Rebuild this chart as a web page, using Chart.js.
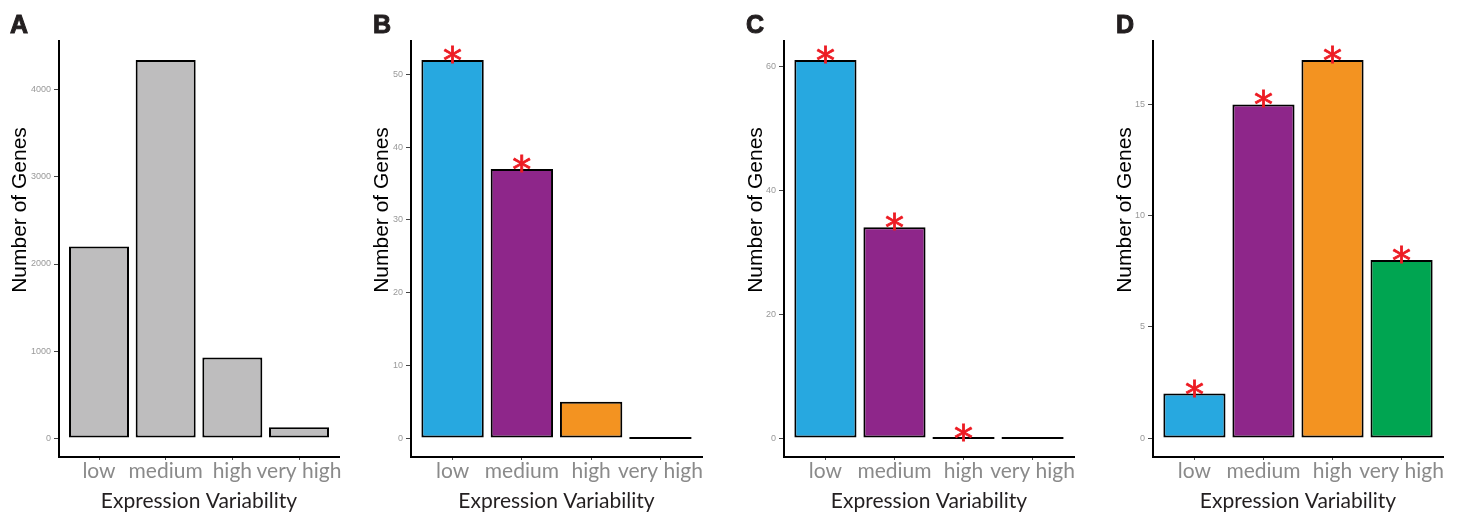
<!DOCTYPE html>
<html>
<head>
<meta charset="utf-8">
<script src="https://cdn.jsdelivr.net/npm/chart.js@4.4.1/dist/chart.umd.min.js"></script>
<style>
  body { margin: 0; background: #fff; width: 1460px; height: 514px; position: relative; overflow: hidden; }
  .panel { position: absolute; top: 0; }
  .letter { position: absolute; top: 12px; font: bold 25px 'Liberation Sans', Arial, sans-serif; line-height: 1; color: #231f20; -webkit-text-stroke: 1px #231f20; }
</style>
</head>
<body>
<div class="panel" style="left:0"><canvas id="chartA" width="345" height="514"></canvas></div>
<div class="panel" style="left:370px"><canvas id="chartB" width="340" height="514"></canvas></div>
<div class="panel" style="left:740px"><canvas id="chartC" width="340" height="514"></canvas></div>
<div class="panel" style="left:1100px"><canvas id="chartD" width="355" height="514"></canvas></div>
<div class="letter" style="left:10px">A</div>
<div class="letter" style="left:373px">B</div>
<div class="letter" style="left:746px">C</div>
<div class="letter" style="left:1116px">D</div>
<script>
const categories = ['low', 'medium', 'high', 'very high'];

const countsA = [2200, 4345, 925, 125];
const countsB = [52, 37, 5, 0];
const countsC = [61, 34, 0, 0];
const countsD = [2, 15, 17, 8];

const starsA = [false, false, false, false];
const starsB = [true, true, false, false];
const starsC = [true, true, true, false];
const starsD = [true, true, true, true];

const ticksA = [0, 1000, 2000, 3000, 4000];
const ticksB = [0, 10, 20, 30, 40, 50];
const ticksC = [0, 20, 40, 60];
const ticksD = [0, 5, 10, 15];

const grey = '#bebdbe';
const colorsA = [grey, grey, grey, grey];
const colorsVar = ['#27a8e0', '#8e268a', '#f39321', '#00a551'];

// stars above bars + rotated y title
const extras = {
  id: 'extras',
  afterDatasetsDraw(chart, args, opts) {
    const { ctx } = chart;
    const meta = chart.getDatasetMeta(0);
    const ys = chart.scales.y;
    const vals = chart.data.datasets[0].data;
    ctx.save();
    ctx.fillStyle = '#ed1c24';
    ctx.strokeStyle = '#ed1c24';
    ctx.lineWidth = 0.8;
    ctx.font = '38px "DejaVu Sans"';
    ctx.textAlign = 'center';
    ctx.textBaseline = 'alphabetic';
    const m = ctx.measureText('*');
    opts.stars.forEach((s, i) => {
      if (!s) return;
      const cy = ys.getPixelForValue(vals[i].y) - 6;
      const by = cy + (m.actualBoundingBoxAscent - m.actualBoundingBoxDescent) / 2;
      ctx.fillText('*', meta.data[i].x, by);
      ctx.strokeText('*', meta.data[i].x, by);
    });
    ctx.restore();

    ctx.save();
    ctx.translate(opts.titleX, 210);
    ctx.rotate(-Math.PI / 2);
    ctx.fillStyle = '#000';
    ctx.font = '21px "Liberation Sans"';
    ctx.textAlign = 'center';
    ctx.textBaseline = 'middle';
    ctx.fillText('Number of Genes', 0, 0);
    ctx.restore();
  }
};

function makePanel(id, counts, colors, stars, yTicks, cfg) {
  const top = Math.max(...counts);
  return new Chart(document.getElementById(id), {
    type: 'bar',
    data: {
      datasets: [{
        data: counts.map((v, i) => ({ x: i + 1, y: v })),
        backgroundColor: colors,
        borderColor: '#000',
        borderWidth: 2,
        borderSkipped: false,
        minBarLength: 2,
        barPercentage: 0.9,
        categoryPercentage: 1
      }]
    },
    options: {
      responsive: false,
      animation: false,
      devicePixelRatio: 1,
      layout: { padding: { top: 41, right: cfg.padRight, left: 0, bottom: 0 } },
      plugins: {
        legend: { display: false },
        tooltip: { enabled: false },
        extras: { stars, titleX: cfg.titleX }
      },
      scales: {
        x: {
          type: 'linear',
          offset: false,
          min: 0.4,
          max: categories.length + 0.6,
          afterBuildTicks: s => { s.ticks = categories.map((c, i) => ({ value: i + 1 })); },
          afterFit: s => { s.height = 57; },
          ticks: {
            callback: (v, i) => categories[i],
            autoSkip: false, maxRotation: 0, padding: -1,
            font: { family: 'Lato', size: 21 }, color: '#8a8a8a'
          },
          grid: { offset: false, drawOnChartArea: false, tickLength: 3, color: '#444' },
          border: { color: '#000', width: 2 },
          title: {
            display: true, text: 'Expression Variability',
            font: { family: 'Lato', size: 21 }, color: '#231f20',
            padding: { top: 0, bottom: 0 }
          }
        },
        y: {
          min: -0.05 * top,
          max: 1.05 * top,
          afterBuildTicks: s => { s.ticks = yTicks.map(v => ({ value: v })); },
          afterFit: s => { s.width = cfg.axisLeft; },
          ticks: {
            callback: v => String(v), padding: 3,
            font: { family: 'Liberation Sans', size: 9 }, color: '#999'
          },
          grid: { drawOnChartArea: false, tickLength: 5, color: '#444' },
          border: { color: '#000', width: 2 }
        }
      }
    },
    plugins: [extras]
  });
}

makePanel('chartA', countsA, colorsA, starsA, ticksA, { axisLeft: 59, padRight: 6, titleX: 20 });
makePanel('chartB', countsB, colorsVar, starsB, ticksB, { axisLeft: 41, padRight: 8, titleX: 12 });
makePanel('chartC', countsC, colorsVar, starsC, ticksC, { axisLeft: 44, padRight: 6, titleX: 16 });
makePanel('chartD', countsD, colorsVar, starsD, ticksD, { axisLeft: 53, padRight: 12, titleX: 25 });
</script>
</body>
</html>
